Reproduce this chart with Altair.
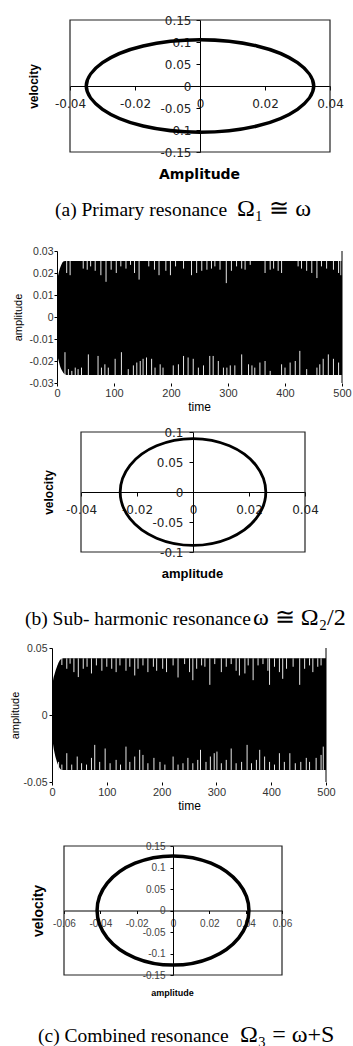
import altair as alt
import pandas as pd

W, H = 353, 1046

# ---------------- (a) primary resonance: phase portrait ----------------
a_amp = [0.035, 0.030, 0.0175, 0.0, -0.0175, -0.030, -0.035, -0.030, -0.0175, 0.0, 0.0175, 0.030]
a_vel = [0.0, 0.053, 0.091, 0.105, 0.091, 0.053, 0.0, -0.053, -0.091, -0.105, -0.091, -0.053]
a_xticks = [-0.04, -0.02, 0, 0.02, 0.04]
a_yticks = [-0.15, -0.1, -0.05, 0, 0.05, 0.1, 0.15]

# ---------------- (b) sub-harmonic resonance: time history ----------------
b_env_t = [0, 2, 5, 8, 11, 14, 17, 500]
b_env_up = [0.017, 0.019, 0.022, 0.024, 0.0252, 0.0255, 0.0255, 0.0255]
b_env_lo = [-0.017, -0.019, -0.022, -0.024, -0.0253, -0.026, -0.0264, -0.0264]
b_top_t = [17, 23, 46, 53, 59, 67, 77, 86, 95, 104, 112, 121, 129, 136, 144, 161, 171, 179, 191, 199,
           208, 222, 236, 245, 254, 263, 271, 277, 286, 297, 306, 315, 324, 330, 339, 365, 374, 380, 388, 394,
           423, 429, 438, 447, 456, 464, 473, 485, 494, 498]
b_top_peak = [0.020, 0.019, 0.022, 0.0215, 0.023, 0.021, 0.019, 0.016, 0.0215, 0.020,
              0.023, 0.022, 0.0237, 0.020, 0.017, 0.023, 0.0215, 0.019, 0.021, 0.019,
              0.023, 0.022, 0.019, 0.020, 0.021, 0.0215, 0.022, 0.023, 0.0215, 0.0154,
              0.021, 0.023, 0.022, 0.0215, 0.0237, 0.020, 0.0215, 0.022, 0.021, 0.020,
              0.023, 0.022, 0.021, 0.020, 0.0177, 0.023, 0.022, 0.0215, 0.020, 0.019]
b_bot_t = [14, 20, 26, 32, 37, 43, 55, 72, 78, 84, 90, 102, 113, 125, 134, 140, 146, 151, 157, 166,
           172, 181, 186, 204, 213, 222, 230, 239, 248, 257, 268, 274, 283, 292, 298, 304, 312, 324, 336, 342,
           347, 356, 365, 374, 394, 400, 409, 418, 426, 438, 456, 461, 467, 476, 485, 494]
b_bot_peak = [-0.016, -0.0237, -0.0245, -0.023, -0.0237, -0.023, -0.017, -0.0177, -0.023, -0.0215,
              -0.023, -0.019, -0.016, -0.0237, -0.022, -0.0207, -0.020, -0.019, -0.0184, -0.019,
              -0.023, -0.0215, -0.023, -0.022, -0.0215, -0.0177, -0.0184, -0.019, -0.023, -0.022,
              -0.0177, -0.0177, -0.020, -0.023, -0.023, -0.022, -0.022, -0.017, -0.0215, -0.022,
              -0.023, -0.0207, -0.020, -0.0245, -0.0215, -0.023, -0.0207, -0.020, -0.0154, -0.0237,
              -0.023, -0.0215, -0.019, -0.017, -0.019, -0.0207]
b_xticks = [0, 100, 200, 300, 400, 500]
b_yticks = [-0.03, -0.02, -0.01, 0, 0.01, 0.02, 0.03]

# ---------------- (b) phase portrait ----------------
bp_amp = [0.026, 0.0225, 0.013, 0.0, -0.013, -0.0225, -0.026, -0.0225, -0.013, 0.0, 0.013, 0.0225]
bp_vel = [0.0, 0.0445, 0.077, 0.089, 0.077, 0.0445, 0.0, -0.0445, -0.077, -0.089, -0.077, -0.0445]
bp_xticks = [-0.04, -0.02, 0, 0.02, 0.04]
bp_yticks = [-0.1, -0.05, 0, 0.05, 0.1]

# ---------------- (c) combined resonance: time history ----------------
c_env_t = [0, 2, 5, 9, 13, 18, 22, 500]
c_env_up = [0.02, 0.026, 0.031, 0.036, 0.040, 0.042, 0.0423, 0.0423]
c_env_lo = [-0.015, -0.022, -0.029, -0.035, -0.039, -0.041, -0.041, -0.041]
c_top_t = [18, 27, 33, 40, 48, 57, 64, 72, 81, 91, 100, 109, 117, 124, 135, 142, 151, 157, 166, 175,
           185, 191, 202, 209, 221, 230, 242, 251, 257, 264, 273, 279, 288, 297, 309, 318, 327, 336, 342, 352,
           358, 367, 376, 385, 394, 397, 406, 415, 421, 428, 440, 452, 461, 470, 476, 485, 491]
c_top_peak = [0.0373, 0.0345, 0.0383, 0.032, 0.0283, 0.0345, 0.036, 0.031, 0.037, 0.033,
              0.036, 0.0345, 0.032, 0.037, 0.033, 0.036, 0.0295, 0.0345, 0.037, 0.032,
              0.036, 0.033, 0.0345, 0.032, 0.037, 0.028, 0.038, 0.032, 0.026, 0.0345,
              0.037, 0.036, 0.0225, 0.038, 0.032, 0.036, 0.038, 0.033, 0.0295, 0.031,
              0.037, 0.026, 0.037, 0.038, 0.033, 0.0225, 0.036, 0.032, 0.027, 0.0345,
              0.036, 0.0225, 0.0345, 0.037, 0.032, 0.036, 0.037]
c_bot_t = [12, 18, 27, 36, 46, 54, 63, 72, 78, 87, 97, 106, 117, 125, 135, 142, 151, 160, 166, 175,
           186, 197, 206, 221, 230, 239, 248, 257, 266, 271, 281, 289, 296, 301, 309, 318, 327, 336, 346, 356,
           364, 373, 379, 388, 397, 406, 415, 424, 434, 444, 454, 464, 470, 482, 491, 495]
c_bot_peak = [-0.035, -0.037, -0.0285, -0.037, -0.031, -0.036, -0.037, -0.032, -0.0223, -0.035,
              -0.025, -0.036, -0.0335, -0.037, -0.0236, -0.035, -0.031, -0.026, -0.0298, -0.036,
              -0.032, -0.035, -0.037, -0.031, -0.037, -0.036, -0.032, -0.036, -0.0335, -0.026,
              -0.035, -0.031, -0.0285, -0.0273, -0.036, -0.0335, -0.025, -0.036, -0.035, -0.0223,
              -0.036, -0.0335, -0.026, -0.031, -0.035, -0.037, -0.0285, -0.035, -0.0285, -0.036,
              -0.035, -0.032, -0.035, -0.032, -0.0298, -0.0236]
c_xticks = [0, 100, 200, 300, 400, 500]
c_yticks = [-0.05, 0, 0.05]

# ---------------- (c) phase portrait ----------------
cp_amp = [0.0418, 0.0362, 0.0209, 0.0, -0.0209, -0.0362, -0.0418, -0.0362, -0.0209, 0.0, 0.0209, 0.0362]
cp_vel = [0.0, 0.0635, 0.110, 0.127, 0.110, 0.0635, 0.0, -0.0635, -0.110, -0.127, -0.110, -0.0635]
cp_xticks = [-0.06, -0.04, -0.02, 0, 0.02, 0.04, 0.06]
cp_yticks = [-0.15, -0.1, -0.05, 0, 0.05, 0.1, 0.15]

caption_words = ["(a) Primary resonance", "(b) Sub- harmonic resonance", "(c) Combined resonance"]
caption_math = ["\u03a9\u2081 \u2245 \u03c9", "\u03c9 \u2245 \u03a9\u2082/2", "\u03a9\u2083 = \u03c9+S"]


def lin(dom, rng, v):
    return rng[0] + (v - dom[0]) / (dom[1] - dom[0]) * (rng[1] - rng[0])


def axis(orient, offset, values, lfont, lsize, lcolor, tick, pad, title, tfont, tsize, tweight,
         tx, ty, domain=True):
    return alt.Axis(
        orient=orient, offset=offset, values=values, labelExpr="'' + datum.value",
        grid=False, domain=domain, domainColor="black", domainWidth=1,
        tickColor="black", tickWidth=1, tickSize=tick,
        labelFont=lfont, labelFontSize=lsize, labelColor=lcolor, labelPadding=pad,
        labelOverlap=False, labelFlush=False,
        title=title, titleFont=tfont, titleFontSize=tsize, titleFontWeight=tweight,
        titleColor="black", titleX=tx, titleY=ty, titleBaseline="middle", titleAlign="center",
        titleAngle=270 if orient == "left" else 0,
    )


def phase_panel(amp, vel, xdom, ydom, xr, yr, xt, yt, lw, lfont, lsize, lcolor, tick, xpad, ypad,
                ytitle, ytfont, ytsize, ytx, xtitle, xtfont, xtsize, xtx, xty):
    xs = alt.Scale(domain=xdom, range=xr, nice=False, zero=False)
    ys = alt.Scale(domain=ydom, range=yr, nice=False, zero=False)
    cx = lin(xdom, xr, 0)
    cy = lin(ydom, yr, 0)
    xa = axis("bottom", cy - H, xt, lfont, lsize, lcolor, tick, xpad, xtitle, xtfont, xtsize, "bold", xtx, xty)
    ya = axis("left", -cx, yt, lfont, lsize, lcolor, tick, ypad, ytitle, ytfont, ytsize, "bold", ytx - cx, cy)
    frame = pd.DataFrame({"x0": [xdom[0]], "x1": [xdom[1]], "y0": [ydom[0]], "y1": [ydom[1]]})
    curve = pd.DataFrame({"x": amp, "y": vel, "i": list(range(len(amp)))})
    box = alt.Chart(frame).mark_rect(fillOpacity=0, stroke="#222", strokeWidth=1.2).encode(
        x=alt.X("x0:Q", scale=xs, axis=xa), x2="x1",
        y=alt.Y("y0:Q", scale=ys, axis=ya), y2="y1")
    line = alt.Chart(curve).mark_line(interpolate="cardinal-closed", color="black", strokeWidth=lw).encode(
        x=alt.X("x:Q", scale=xs, axis=xa), y=alt.Y("y:Q", scale=ys, axis=ya), order="i:Q")
    return alt.layer(box, line)


def time_panel(env_t, up, lo, top_t, top_peak, bot_t, bot_peak, xdom, ydom, xr, yr, xt, yt,
               ypad, ytx, xtx):
    xs = alt.Scale(domain=xdom, range=xr, nice=False, zero=False)
    ys = alt.Scale(domain=ydom, range=yr, nice=False, zero=False)
    x0 = lin(xdom, xr, xdom[0])
    y0 = lin(ydom, yr, ydom[0])
    ymid = lin(ydom, yr, 0)
    xa = axis("bottom", y0 - H, xt, "Liberation Sans", 11, "#333", 3, 1, "time",
              "Liberation Sans", 12, "normal", xtx, 23, domain=False)
    ya = axis("left", -x0, yt, "Liberation Sans", 10.5, "#333", 3, ypad, "amplitude",
              "Liberation Sans", 11, "normal", ytx - x0, ymid)
    env = pd.DataFrame({"t": env_t, "up": up, "lo": lo})
    band = alt.Chart(env).mark_area(color="black", interpolate="monotone").encode(
        x=alt.X("t:Q", scale=xs, axis=xa), y=alt.Y("up:Q", scale=ys, axis=ya), y2="lo")
    top = pd.DataFrame({"t": top_t, "edge": [up[-1]] * len(top_t), "peak": top_peak})
    bot = pd.DataFrame({"t": bot_t, "edge": [lo[-1]] * len(bot_t), "peak": bot_peak})
    gaps_top = alt.Chart(top).mark_rule(color="#e8e8e8", strokeWidth=1).encode(
        x=alt.X("t:Q", scale=xs, axis=xa), y=alt.Y("edge:Q", scale=ys, axis=ya), y2="peak")
    gaps_bot = alt.Chart(bot).mark_rule(color="#e8e8e8", strokeWidth=1).encode(
        x=alt.X("t:Q", scale=xs, axis=xa), y=alt.Y("edge:Q", scale=ys, axis=ya), y2="peak")
    edge = pd.DataFrame({"t": [xdom[1]], "a": [ydom[1]], "b": [ydom[0]]})
    right = alt.Chart(edge).mark_rule(color="black", strokeWidth=1).encode(
        x=alt.X("t:Q", scale=xs, axis=xa), y=alt.Y("a:Q", scale=ys, axis=ya), y2="b")
    return alt.layer(band, gaps_top, gaps_bot, right)


def caption(words, math, x_words, x_math, y):
    w = alt.Chart(pd.DataFrame({"c": [words]})).mark_text(
        font="Liberation Serif", fontSize=19.5, color="black", align="left", baseline="alphabetic"
    ).encode(text="c:N", x=alt.value(x_words), y=alt.value(y))
    m = alt.Chart(pd.DataFrame({"c": [math]})).mark_text(
        font="Liberation Serif", fontSize=24, color="black", align="left", baseline="alphabetic"
    ).encode(text="c:N", x=alt.value(x_math), y=alt.value(y))
    return alt.layer(w, m)


pa = phase_panel(a_amp, a_vel, [-0.04, 0.04], [-0.15, 0.15], [70, 330], [152, 20], a_xticks, a_yticks,
                 3.5, "DejaVu Sans", 12, "#222", 4, 8, 5,
                 "velocity", "Liberation Sans", 12, 33, "Amplitude", "DejaVu Sans", 14, 199, 88)
tb = time_panel(b_env_t, b_env_up, b_env_lo, b_top_t, b_top_peak, b_bot_t, b_bot_peak,
                [0, 500], [-0.03, 0.03], [57, 342], [383, 251], b_xticks, b_yticks, 1, 18, 199)
pb = phase_panel(bp_amp, bp_vel, [-0.04, 0.04], [-0.1, 0.1], [81, 305], [552, 432], bp_xticks, bp_yticks,
                 2.8, "DejaVu Sans", 12, "#222", 4, 8, 6,
                 "velocity", "Liberation Sans", 12, 48, "amplitude", "Liberation Sans", 13, 192, 81)
tc = time_panel(c_env_t, c_env_up, c_env_lo, c_top_t, c_top_peak, c_bot_t, c_bot_peak,
                [0, 500], [-0.05, 0.05], [52, 326], [782, 648], c_xticks, c_yticks, 2, 15, 189)
pc = phase_panel(cp_amp, cp_vel, [-0.06, 0.06], [-0.15, 0.15], [64, 282], [975, 846], cp_xticks, cp_yticks,
                 3.5, "Liberation Sans", 10, "#444", 3, 5, 5,
                 "velocity", "Liberation Sans", 14, 38, "amplitude", "Liberation Sans", 9, 172, 81.5)

chart = alt.layer(
    pa, tb, pb, tc, pc,
    caption(caption_words[0], caption_math[0], 55, 237, 216),
    caption(caption_words[1], caption_math[1], 25, 253, 625),
    caption(caption_words[2], caption_math[2], 38, 240, 1042),
).resolve_scale(x="independent", y="independent").resolve_axis(
    x="independent", y="independent"
).properties(
    width=W, height=H, autosize="none", padding=0, background="white"
).configure_view(stroke=None)

chart.save("out.html", embed_options={"renderer": "svg", "actions": False})
